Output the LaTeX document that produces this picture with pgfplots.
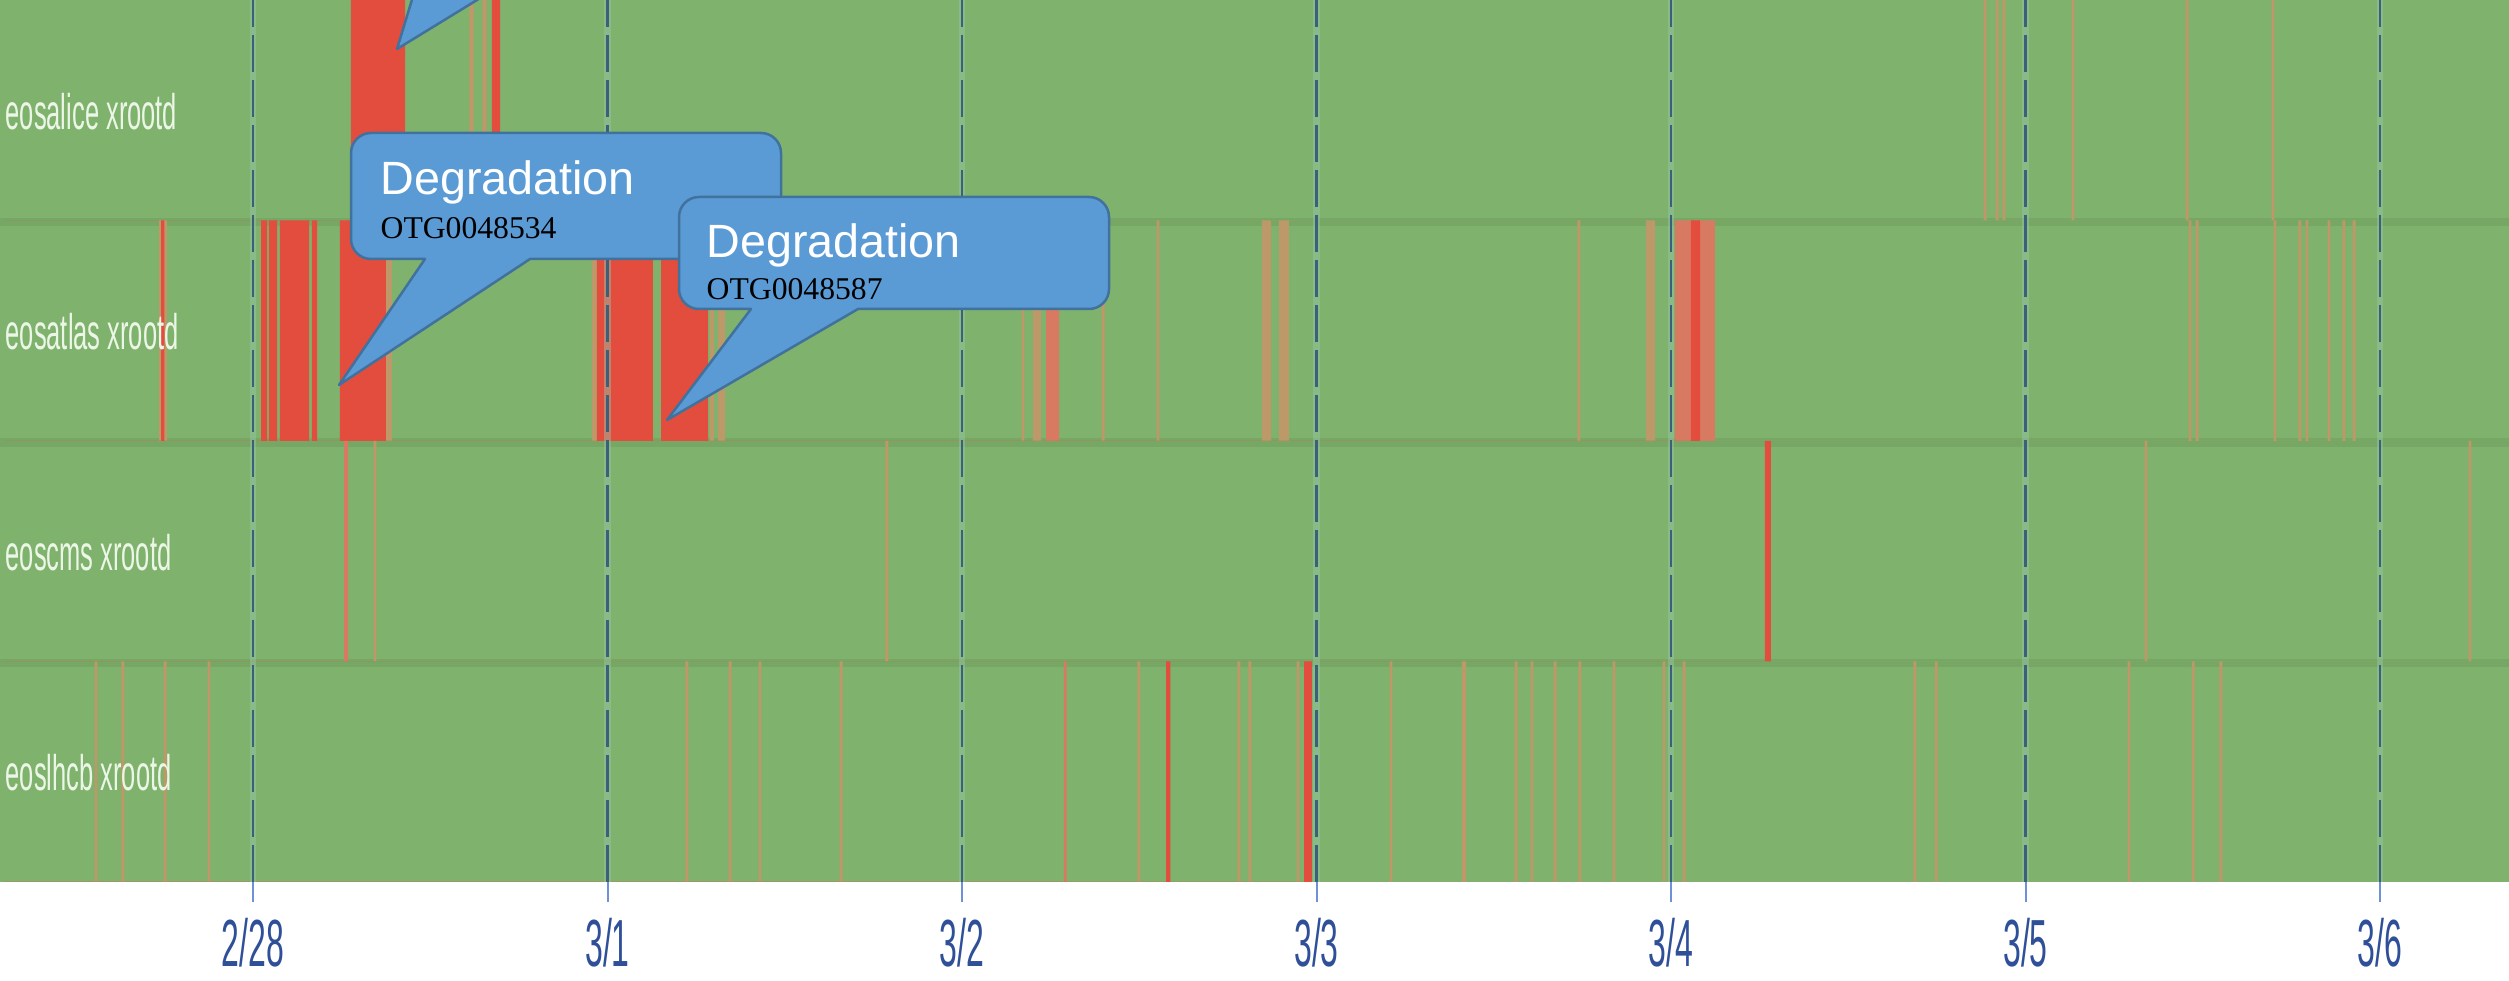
\documentclass[border=0pt]{standalone}
\usepackage{fontspec}
\setmainfont{Liberation Sans}
\newfontfamily\timesfont{Liberation Serif}
\usepackage{graphicx}
\usepackage{pgfplots}
\pgfplotsset{compat=1.18}

\definecolor{okgreen}{RGB}{127,178,109}
\definecolor{bandgreen}{RGB}{118,167,100}
\definecolor{downred}{RGB}{226,77,62}
\definecolor{midred}{RGB}{216,122,98}
\definecolor{fadered}{RGB}{189,152,104}
\definecolor{gridcol}{RGB}{60,95,122}
\definecolor{halo}{RGB}{150,200,170}
\definecolor{tickblue}{RGB}{110,145,215}
\definecolor{labelblue}{RGB}{47,80,152}
\definecolor{rowtext}{RGB}{236,246,230}
\definecolor{callfill}{RGB}{91,155,213}
\definecolor{calldraw}{RGB}{65,113,157}

\newcommand{\cond}[1]{\scalebox{0.48}[1]{#1}}
\newcommand{\rowlab}[1]{\scalebox{0.51}[1]{#1}}

\pgfplotsset{strip/.style={const plot, draw=none, fill=#1}}

% callout in pixel units: left, right, top, bottom, tail base x1, x2, tip
\newcommand{\callout}[8]{%
  \path[fill=callfill, draw=calldraw, line width=0.75pt, line join=round]
    (#2-20,#4) arc[start angle=270, end angle=360, radius=6pt]
    -- (#2,#3+20) arc[start angle=0, end angle=90, radius=6pt]
    -- (#1+20,#3) arc[start angle=90, end angle=180, radius=6pt]
    -- (#1,#4-20) arc[start angle=180, end angle=270, radius=6pt]
    -- (#5,#4) -- (#7,#8) -- (#6,#4) -- cycle;}

\begin{document}
\begin{tikzpicture}
\begin{axis}[
    at={(0,0)}, anchor=south west,
    width=752.7pt, height=264.6pt, scale only axis,
    xmin=-0.7137, xmax=6.3639, ymin=0, ymax=4,
    axis background/.style={fill=okgreen},
    axis line style={draw=none},
    axis on top,
    ytick=\empty,
    xtick={0,1,2,3,4,5,6},
    xticklabels={\cond{2/28},\cond{3/1},\cond{3/2},\cond{3/3},\cond{3/4},\cond{3/5},\cond{3/6}},
    xtick pos=left,
    tick align=outside,
    major tick length=6pt,
    x tick style={draw=tickblue, line width=0.6pt},
    xticklabel style={anchor=center, yshift=-12.3pt, text=labelblue,
        font=\fontsize{20}{20}\selectfont},
    xmajorgrids,
    major grid style={draw=gridcol, line width=0.7pt, dash pattern=on 11pt off 2.5pt,
        preaction={draw=halo, line width=2pt, solid, draw opacity=0.45}},
]
% row separators
\fill[bandgreen] (axis cs:-0.72,2.975) rectangle (axis cs:6.4,3.012);
\fill[bandgreen] (axis cs:-0.72,1.975) rectangle (axis cs:6.4,2.012);
\fill[bandgreen] (axis cs:-0.72,0.975) rectangle (axis cs:6.4,1.012);

% eosalice xrootd (row 3..4)
\addplot[strip=fadered] coordinates {(-0.7,3)
  (0.610,4)(0.622,3) (0.647,4)(0.659,3) (4.882,4)(4.890,3) (4.916,4)(4.924,3)
  (4.935,4)(4.943,3) (5.130,4)(5.138,3) (5.452,4)(5.460,3) (5.694,4)(5.702,3)} -- cycle;
\addplot[strip=downred] coordinates {(-0.7,3)
  (0.276,4)(0.429,3) (0.674,4)(0.697,3)} -- cycle;

% eosatlas xrootd (row 2..3)
\addplot[strip=fadered] coordinates {(-0.7,2)
  (-0.265,3)(-0.243,2) (0.375,3)(0.392,2) (0.956,3)(0.970,2) (1.289,3)(1.300,2)
  (1.312,3)(1.332,2) (2.168,3)(2.176,2) (2.200,3)(2.223,2) (2.394,3)(2.402,2)
  (2.549,3)(2.557,2) (2.846,3)(2.872,2) (2.894,3)(2.922,2) (3.736,3)(3.744,2)
  (3.929,3)(3.955,2) (5.460,3)(5.468,2) (5.480,3)(5.488,2) (5.700,3)(5.708,2)
  (5.770,3)(5.778,2) (5.790,3)(5.798,2) (5.852,3)(5.860,2) (5.894,3)(5.902,2)
  (5.923,3)(5.931,2)} -- cycle;
\addplot[strip=midred] coordinates {(-0.7,2)
  (2.237,3)(2.274,2) (4.011,3)(4.124,2)} -- cycle;
\addplot[strip=downred] coordinates {(-0.7,2)
  (-0.259,3)(-0.250,2) (0.023,3)(0.040,2) (0.045,3)(0.068,2) (0.076,3)(0.158,2)
  (0.166,3)(0.181,2) (0.245,3)(0.375,2) (0.970,3)(1.128,2) (1.151,3)(1.284,2)
  (4.056,3)(4.082,2)} -- cycle;

% eoscms xrootd (row 1..2)
\addplot[strip=fadered] coordinates {(-0.7,1)
  (0.340,2)(0.348,1) (1.784,2)(1.792,1) (5.336,2)(5.344,1) (6.250,2)(6.258,1)} -- cycle;
\addplot[strip=midred] coordinates {(-0.7,1)
  (0.257,2)(0.268,1)} -- cycle;
\addplot[strip=downred] coordinates {(-0.7,1)
  (4.265,2)(4.282,1)} -- cycle;

% eoslhcb xrootd (row 0..1)
\addplot[strip=fadered] coordinates {(-0.7,0)
  (-0.447,1)(-0.439,0) (-0.371,1)(-0.363,0) (-0.252,1)(-0.244,0) (-0.128,1)(-0.120,0)
  (1.220,1)(1.228,0) (1.342,1)(1.350,0) (1.426,1)(1.434,0) (1.655,1)(1.663,0)
  (2.495,1)(2.503,0) (2.777,1)(2.785,0) (2.808,1)(2.816,0) (2.944,1)(2.952,0)
  (3.206,1)(3.214,0) (3.410,1)(3.422,0) (3.559,1)(3.567,0) (3.604,1)(3.612,0)
  (3.669,1)(3.677,0) (3.739,1)(3.747,0) (3.835,1)(3.843,0) (3.976,1)(3.984,0)
  (4.033,1)(4.041,0) (4.684,1)(4.692,0) (4.744,1)(4.752,0) (5.288,1)(5.296,0)
  (5.469,1)(5.477,0) (5.547,1)(5.555,0)} -- cycle;
\addplot[strip=midred] coordinates {(-0.7,0)
  (2.287,1)(2.295,0)} -- cycle;
\addplot[strip=downred] coordinates {(-0.7,0)
  (2.576,1)(2.588,0) (2.965,1)(2.987,0)} -- cycle;

% row names
\begin{scope}[every node/.style={anchor=base west, inner sep=0pt, text=rowtext,
    font=\fontsize{15}{15}\selectfont}]
\node at (axis cs:-0.6996,3.413) {\rowlab{eosalice xrootd}};
\node at (axis cs:-0.6996,2.413) {\rowlab{eosatlas xrootd}};
\node at (axis cs:-0.6996,1.413) {\rowlab{eoscms xrootd}};
\node at (axis cs:-0.6996,0.413) {\rowlab{eoslhcb xrootd}};
\end{scope}
\end{axis}

% callouts (pixel units of the reference, origin at top left of the plot)
\begin{scope}[yshift=264.6pt, x=0.3pt, y=-0.3pt]
\callout{330}{780}{-160}{-30}{421}{526}{397}{49}
\callout{351}{781}{133}{259}{425}{530}{339}{385}
\node[anchor=base west, inner sep=0pt, text=white, font=\fontsize{14}{14}\selectfont]
  at (380,195) {Degradation};
\node[anchor=base west, inner sep=0pt, text=black, font=\timesfont\fontsize{9.5}{9.5}\selectfont]
  at (380,239) {OTG0048534};
\callout{679}{1109}{197}{309}{751}{858}{667}{420}
\node[anchor=base west, inner sep=0pt, text=white, font=\fontsize{14}{14}\selectfont]
  at (706,258) {Degradation};
\node[anchor=base west, inner sep=0pt, text=black, font=\timesfont\fontsize{9.5}{9.5}\selectfont]
  at (706,300) {OTG0048587};
\end{scope}

\pgfresetboundingbox
\path (0,-29.7pt) rectangle (752.7pt,264.6pt);
\end{tikzpicture}
\end{document}
